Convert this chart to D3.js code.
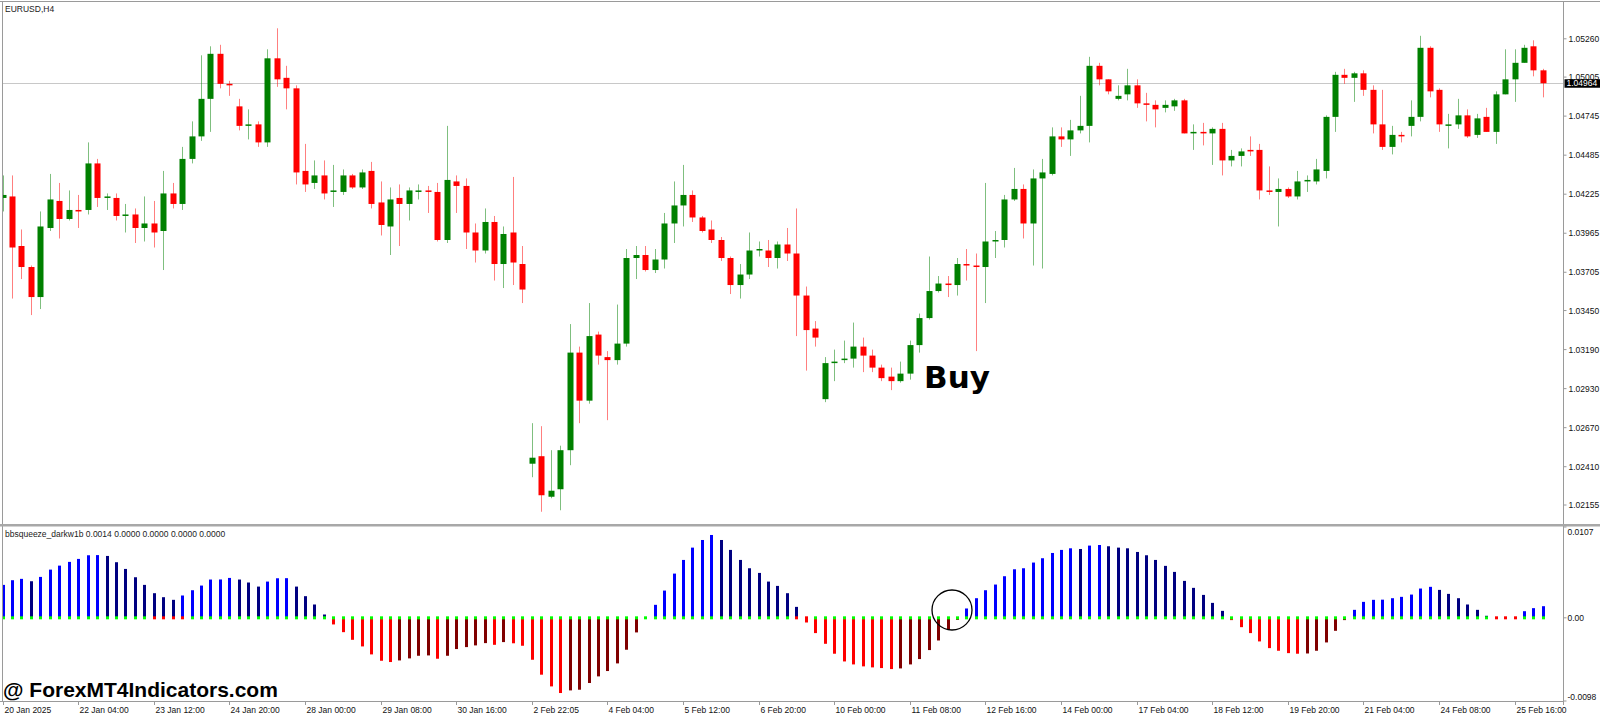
<!DOCTYPE html>
<html>
<head>
<meta charset="utf-8">
<script src="https://cdn.jsdelivr.net/npm/d3@7"></script>
<style>
  body { margin: 0; background: #fff; }
  svg { display: block; }
  text { font-family: "Liberation Sans", Arial, sans-serif; }
</style>
</head>
<body>
<svg id="chart" width="1600" height="717"></svg>
<script>
// EURUSD H4, one value per bar (164 bars)
const open = [
  1.0420,1.0421,1.0388,1.0374,1.0354,1.0400,1.0418,1.0406,1.0412,1.0412,
  1.0443,1.0420,1.0420,1.0408,1.0409,1.0400,1.0403,1.0398,1.0423,1.0416,
  1.0446,1.0461,1.0486,1.0516,1.0496,1.0481,1.0468,1.0469,1.0457,1.0513,
  1.0500,1.0493,1.0438,1.0430,1.0435,1.0424,1.0424,1.0435,1.0427,1.0438,
  1.0417,1.0401,1.0420,1.0416,1.0424,1.0425,1.0424,1.0392,1.0431,1.0428,
  1.0397,1.0385,1.0404,1.0376,1.0397,1.0376,1.0243,1.0248,1.0221,1.0226,
  1.0252,1.0317,1.0285,1.0329,1.0314,1.0312,1.0323,1.0380,1.0382,1.0372,
  1.0379,1.0403,1.0415,1.0422,1.0407,1.0399,1.0392,1.0380,1.0362,1.0369,
  1.0385,1.0385,1.0380,1.0389,1.0383,1.0355,1.0333,1.0286,1.0310,1.0312,
  1.0313,1.0321,1.0315,1.0307,1.0301,1.0298,1.0303,1.0322,1.0340,1.0358,
  1.0363,1.0362,1.0376,1.0375,1.0374,1.0391,1.0392,1.0419,1.0426,1.0403,
  1.0433,1.0436,1.0461,1.0459,1.0465,1.0468,1.0508,1.0499,1.0486,1.0489,
  1.0495,1.0483,1.0482,1.0480,1.0481,1.0485,1.0463,1.0464,1.0463,1.0466,
  1.0445,1.0448,1.0452,1.0452,1.0425,1.0424,1.0426,1.0421,1.0431,1.0431,
  1.0438,1.0474,1.0502,1.0500,1.0503,1.0492,1.0469,1.0454,1.0462,1.0468,
  1.0474,1.0520,1.0492,1.0468,1.0469,1.0475,1.0462,1.0474,1.0464,1.0489,
  1.0499,1.0510,1.0521,1.0505
];
const high = [
  1.0435,1.0435,1.0399,1.0375,1.0411,1.0436,1.0430,1.0425,1.0422,1.0457,
  1.0446,1.0423,1.0423,1.0416,1.0413,1.0421,1.0418,1.0438,1.0430,1.0454,
  1.0471,1.0515,1.0521,1.0522,1.0498,1.0486,1.0479,1.0471,1.0519,1.0533,
  1.0508,1.0495,1.0456,1.0445,1.0445,1.0442,1.0439,1.0436,1.0439,1.0444,
  1.0431,1.0427,1.0429,1.0427,1.0429,1.0428,1.0430,1.0468,1.0435,1.0433,
  1.0403,1.0413,1.0408,1.0401,1.0434,1.0388,1.0270,1.0268,1.0252,1.0255,
  1.0336,1.0321,1.0350,1.0331,1.0318,1.0349,1.0386,1.0388,1.0388,1.0386,
  1.0410,1.0431,1.0442,1.0425,1.0408,1.0405,1.0394,1.0381,1.0376,1.0397,
  1.0391,1.0392,1.0391,1.0400,1.0413,1.0361,1.0338,1.0314,1.0319,1.0325,
  1.0337,1.0327,1.0319,1.0309,1.0307,1.0311,1.0325,1.0343,1.0381,1.0368,
  1.0368,1.0380,1.0386,1.0383,1.0430,1.0398,1.0422,1.0440,1.0429,1.0439,
  1.0446,1.0467,1.0467,1.0472,1.0488,1.0514,1.0510,1.0499,1.0495,1.0506,
  1.0499,1.0490,1.0485,1.0485,1.0486,1.0486,1.0469,1.0470,1.0467,1.0470,
  1.0452,1.0453,1.0461,1.0456,1.0441,1.0433,1.0427,1.0438,1.0435,1.0446,
  1.0475,1.0504,1.0506,1.0504,1.0505,1.0495,1.0492,1.0468,1.0464,1.0485,
  1.0528,1.0521,1.0493,1.0476,1.0486,1.0479,1.0476,1.0480,1.0491,1.0519,
  1.0519,1.0522,1.0525,1.0506
];
const low = [
  1.0411,1.0353,1.0366,1.0342,1.0346,1.0398,1.0393,1.0405,1.0400,1.0409,
  1.0414,1.0412,1.0405,1.0397,1.0390,1.0391,1.0387,1.0372,1.0413,1.0412,
  1.0443,1.0458,1.0464,1.0493,1.0488,1.0465,1.0459,1.0454,1.0454,1.0494,
  1.0479,1.0429,1.0424,1.0426,1.0419,1.0414,1.0422,1.0426,1.0426,1.0413,
  1.0395,1.0382,1.0388,1.0405,1.0419,1.0410,1.0391,1.0390,1.0410,1.0386,
  1.0377,1.0383,1.0365,1.0360,1.0362,1.0350,1.0234,1.0211,1.0220,1.0212,
  1.0242,1.0270,1.0283,1.0309,1.0272,1.0309,1.0321,1.0366,1.0371,1.0370,
  1.0373,1.0390,1.0401,1.0404,1.0397,1.0390,1.0378,1.0356,1.0353,1.0366,
  1.0381,1.0374,1.0373,1.0378,1.0328,1.0305,1.0321,1.0284,1.0298,1.0310,
  1.0307,1.0304,1.0304,1.0298,1.0292,1.0297,1.0299,1.0317,1.0339,1.0357,
  1.0354,1.0355,1.0365,1.0318,1.0350,1.0380,1.0387,1.0418,1.0393,1.0375,
  1.0373,1.0435,1.0454,1.0448,1.0463,1.0457,1.0495,1.0489,1.0485,1.0485,
  1.0480,1.0471,1.0467,1.0477,1.0478,1.0463,1.0452,1.0455,1.0442,1.0435,
  1.0441,1.0441,1.0448,1.0419,1.0422,1.0401,1.0420,1.0419,1.0424,1.0429,
  1.0433,1.0464,1.0496,1.0484,1.0488,1.0463,1.0452,1.0449,1.0457,1.0461,
  1.0471,1.0487,1.0464,1.0453,1.0466,1.0460,1.0460,1.0464,1.0456,1.0489,
  1.0484,1.0510,1.0501,1.0487
];
const close = [
  1.0422,1.0387,1.0374,1.0354,1.0401,1.0419,1.0406,1.0412,1.0411,1.0443,
  1.0420,1.0421,1.0408,1.0409,1.0400,1.0403,1.0397,1.0423,1.0416,1.0446,
  1.0461,1.0486,1.0516,1.0496,1.0495,1.0468,1.0469,1.0457,1.0513,1.0499,
  1.0493,1.0437,1.0429,1.0435,1.0423,1.0425,1.0435,1.0427,1.0437,1.0416,
  1.0402,1.0419,1.0416,1.0425,1.0425,1.0424,1.0392,1.0432,1.0428,1.0397,
  1.0385,1.0404,1.0376,1.0396,1.0377,1.0359,1.0247,1.0222,1.0225,1.0252,
  1.0317,1.0285,1.0328,1.0315,1.0312,1.0323,1.0380,1.0382,1.0372,1.0379,
  1.0403,1.0415,1.0422,1.0407,1.0398,1.0392,1.0380,1.0362,1.0369,1.0385,
  1.0386,1.0380,1.0389,1.0383,1.0355,1.0332,1.0327,1.0310,1.0311,1.0313,
  1.0321,1.0315,1.0307,1.0300,1.0298,1.0303,1.0322,1.0340,1.0358,1.0363,
  1.0362,1.0376,1.0375,1.0374,1.0391,1.0392,1.0419,1.0426,1.0403,1.0433,
  1.0437,1.0461,1.0459,1.0465,1.0468,1.0508,1.0499,1.0491,1.0488,1.0495,
  1.0483,1.0482,1.0479,1.0482,1.0485,1.0463,1.0464,1.0463,1.0466,1.0445,
  1.0448,1.0451,1.0451,1.0425,1.0424,1.0426,1.0421,1.0431,1.0432,1.0439,
  1.0474,1.0502,1.0500,1.0503,1.0492,1.0469,1.0454,1.0462,1.0461,1.0474,
  1.0520,1.0491,1.0469,1.0469,1.0475,1.0461,1.0473,1.0464,1.0489,1.0499,
  1.0510,1.0520,1.0505,1.04964
];
// bbsqueeze histogram, same bars
const squeeze = [
  0.00388,0.00443,0.00459,0.00431,0.00482,0.00568,0.00615,0.00659,0.00694,0.00737,
  0.00739,0.00729,0.00655,0.00576,0.00478,0.00388,0.00290,0.00243,0.00212,0.00263,
  0.00325,0.00380,0.00451,0.00452,0.00470,0.00451,0.00416,0.00368,0.00427,0.00466,
  0.00467,0.00368,0.00255,0.00157,0.00039,-0.00078,-0.00169,-0.00259,-0.00337,-0.00431,
  -0.00506,-0.00521,-0.00502,-0.00478,-0.00447,-0.00443,-0.00482,-0.00447,-0.00368,-0.00345,
  -0.00325,-0.00298,-0.00318,-0.00286,-0.00300,-0.00329,-0.00494,-0.00670,-0.00808,-0.00886,
  -0.00855,-0.00847,-0.00768,-0.00690,-0.00627,-0.00537,-0.00376,-0.00172,0.00000,0.00153,
  0.00321,0.00521,0.00682,0.00827,0.00917,0.00976,0.00917,0.00800,0.00682,0.00584,
  0.00529,0.00427,0.00376,0.00290,0.00129,-0.00055,-0.00180,-0.00306,-0.00423,-0.00514,
  -0.00549,-0.00572,-0.00584,-0.00592,-0.00604,-0.00596,-0.00549,-0.00486,-0.00380,-0.00267,
  -0.00141,-0.00024,0.00110,0.00231,0.00325,0.00392,0.00490,0.00572,0.00584,0.00651,
  0.00702,0.00764,0.00800,0.00819,0.00811,0.00851,0.00858,0.00843,0.00827,0.00819,
  0.00776,0.00737,0.00682,0.00612,0.00541,0.00435,0.00353,0.00270,0.00176,0.00082,
  -0.00027,-0.00110,-0.00180,-0.00278,-0.00357,-0.00388,-0.00416,-0.00423,-0.00420,-0.00388,
  -0.00290,-0.00153,-0.00027,0.00094,0.00188,0.00212,0.00214,0.00231,0.00247,0.00274,
  0.00345,0.00365,0.00329,0.00282,0.00231,0.00157,0.00094,0.00024,0.00000,0.00000,
  0.00000,0.00078,0.00114,0.00137
];
// bars where the squeeze dot is red
const squeezeOn = [16, 17, 18, 19, 84, 85, 158, 159, 160];

const priceTicks = [1.05260, 1.05005, 1.04745, 1.04485, 1.04225, 1.03965, 1.03705,
  1.03450, 1.03190, 1.02930, 1.02670, 1.02410, 1.02155];
const lastPrice = 1.04964;
const indTicks = [0.0107, 0, -0.0098];
const indTickLabels = ["0.0107", "0.00", "-0.0098"];
const timeLabels = ["20 Jan 2025", "22 Jan 04:00", "23 Jan 12:00", "24 Jan 20:00", "28 Jan 00:00",
  "29 Jan 08:00", "30 Jan 16:00", "2 Feb 22:05", "4 Feb 04:00", "5 Feb 12:00", "6 Feb 20:00",
  "10 Feb 00:00", "11 Feb 08:00", "12 Feb 16:00", "14 Feb 00:00", "17 Feb 04:00", "18 Feb 12:00",
  "19 Feb 20:00", "21 Feb 04:00", "24 Feb 08:00", "25 Feb 16:00"];
const labelEvery = 8;

const W = 1600, H = 717;
const axisX = 1563.5;
const main = {top: 2, bottom: 523};
const ind = {top: 527, bottom: 701};

const svg = d3.select("#chart");
const n = open.length;

const x = d3.scaleLinear().domain([0, n - 1]).range([2.6, 2.6 + 9.45 * (n - 1)]);
const y = d3.scaleLinear().domain([1.02155, 1.05260]).range([505, 38.8]);
const yi = d3.scaleLinear().domain([-0.0098, 0.0107]).range([ind.bottom, ind.top]);

svg.append("defs").call(d => {
  d.append("clipPath").attr("id", "clipMain")
    .append("rect").attr("x", 2.5).attr("y", main.top).attr("width", axisX - 2.5).attr("height", main.bottom - main.top);
  d.append("clipPath").attr("id", "clipInd")
    .append("rect").attr("x", 2.5).attr("y", ind.top).attr("width", axisX - 2.5).attr("height", ind.bottom - ind.top);
});

// ---- main window ----
const gMain = svg.append("g").attr("clip-path", "url(#clipMain)");

gMain.append("line")
  .attr("x1", 0).attr("x2", axisX)
  .attr("y1", Math.round(y(lastPrice)) + 0.5).attr("y2", Math.round(y(lastPrice)) + 0.5)
  .attr("stroke", "#c8c8c8");

const bars = d3.range(n).map(i => ({i, o: open[i], h: high[i], l: low[i], c: close[i]}));
const col = d => d.c >= d.o ? "#008000" : "#ff0000";

gMain.selectAll("line.wick").data(bars).join("line")
  .attr("class", "wick")
  .attr("x1", d => Math.round(x(d.i)) + 0.5).attr("x2", d => Math.round(x(d.i)) + 0.5)
  .attr("y1", d => y(d.h)).attr("y2", d => y(d.l))
  .attr("stroke", col).attr("stroke-opacity", 0.5).attr("stroke-width", 1);

gMain.selectAll("rect.body").data(bars).join("rect")
  .attr("class", "body")
  .attr("x", d => Math.round(x(d.i)) - 2.5)
  .attr("width", 6)
  .attr("y", d => y(Math.max(d.o, d.c)))
  .attr("height", d => Math.max(1.2, Math.abs(y(d.o) - y(d.c))))
  .attr("fill", col);

svg.append("text").attr("x", 5).attr("y", 12)
  .attr("font-size", 8.5).attr("fill", "#222").text("EURUSD,H4");

svg.append("text").attr("x", 924).attr("y", 388)
  .style("font-family", "'DejaVu Sans', Verdana, sans-serif").attr("font-weight", "bold")
  .attr("font-size", 31).attr("fill", "#000").text("Buy");

// ---- indicator window ----
const gInd = svg.append("g").attr("clip-path", "url(#clipInd)");
const histColor = (v, i) => {
  const prev = i > 0 ? squeeze[i - 1] : v;
  if (v >= 0) return v >= prev ? "#0000ff" : "#000080";
  return v <= prev ? "#ff0000" : "#800000";
};

gInd.selectAll("rect.hist").data(squeeze).join("rect")
  .attr("class", "hist")
  .attr("x", (v, i) => Math.round(x(i)) - 1)
  .attr("width", 3)
  .attr("y", v => Math.min(yi(v), yi(0)))
  .attr("height", v => Math.abs(yi(v) - yi(0)))
  .attr("fill", histColor);

gInd.selectAll("rect.dot").data(squeeze).join("rect")
  .attr("class", "dot")
  .attr("x", (v, i) => Math.round(x(i)) - 1)
  .attr("y", yi(0) - 1.5)
  .attr("width", 3).attr("height", 3)
  .attr("fill", (v, i) => squeezeOn.includes(i) ? "#ff0000" : "#00ff00");

svg.append("text").attr("x", 5).attr("y", 537)
  .attr("font-size", 8.5).attr("fill", "#222")
  .text("bbsqueeze_darkw1b " + d3.format(".4f")(squeeze[n - 1]) + " 0.0000 0.0000 0.0000 0.0000");

svg.append("circle").attr("cx", 952).attr("cy", 610).attr("r", 20)
  .attr("fill", "none").attr("stroke", "#000").attr("stroke-width", 1.3);

svg.append("text").attr("x", 3).attr("y", 697)
  .attr("font-weight", "bold").attr("font-size", 21).attr("fill", "#000")
  .text("@ ForexMT4Indicators.com");

// ---- frames ----
const frame = svg.append("g").attr("stroke", "#9a9a9a").attr("fill", "none");
frame.append("line").attr("x1", 0).attr("x2", W).attr("y1", 1.5).attr("y2", 1.5);
frame.append("line").attr("x1", 2.5).attr("x2", 2.5).attr("y1", 1).attr("y2", ind.bottom);
frame.append("line").attr("x1", axisX).attr("x2", axisX).attr("y1", 1).attr("y2", ind.bottom + 4);
frame.append("rect").attr("x", 0).attr("y", 524).attr("width", W).attr("height", 2.5)
  .attr("fill", "#a8a8a8").attr("stroke", "none");
frame.append("line").attr("x1", 0).attr("x2", axisX).attr("y1", ind.bottom + 0.5).attr("y2", ind.bottom + 0.5);

// ---- price axis ----
const pa = svg.append("g").attr("font-size", 8.5).attr("fill", "#111");
priceTicks.forEach(p => {
  pa.append("line").attr("x1", axisX).attr("x2", axisX + 3)
    .attr("y1", y(p)).attr("y2", y(p)).attr("stroke", "#9a9a9a");
  pa.append("text").attr("x", axisX + 5).attr("y", y(p) + 3).text(d3.format(".5f")(p));
});
// current price tag sits over the 1.05005 label, as in the terminal
pa.append("rect").attr("x", axisX + 1).attr("y", y(lastPrice) - 4)
  .attr("width", W - axisX - 1).attr("height", 8.5).attr("fill", "#000");
pa.append("text").attr("x", axisX + 3).attr("y", y(lastPrice) + 3.2)
  .attr("fill", "#fff").text(d3.format(".5f")(lastPrice));

const ia = svg.append("g").attr("font-size", 8.5).attr("fill", "#111");
indTicks.forEach((v, k) => {
  ia.append("line").attr("x1", axisX).attr("x2", axisX + 3)
    .attr("y1", yi(v)).attr("y2", yi(v)).attr("stroke", "#9a9a9a");
  const ty = k === 0 ? yi(v) + 8 : k === 2 ? yi(v) - 1 : yi(v) + 3;
  ia.append("text").attr("x", axisX + 4).attr("y", ty).text(indTickLabels[k]);
});

// ---- time axis ----
const ta = svg.append("g").attr("font-size", 8.5).attr("fill", "#111");
timeLabels.forEach((t, k) => {
  const tx = Math.round(x(k * labelEvery)) + 0.5;
  ta.append("line").attr("x1", tx).attr("x2", tx)
    .attr("y1", ind.bottom).attr("y2", ind.bottom + 4).attr("stroke", "#9a9a9a");
  ta.append("text").attr("x", tx + 1).attr("y", 713).text(t);
});
</script>
</body>
</html>
